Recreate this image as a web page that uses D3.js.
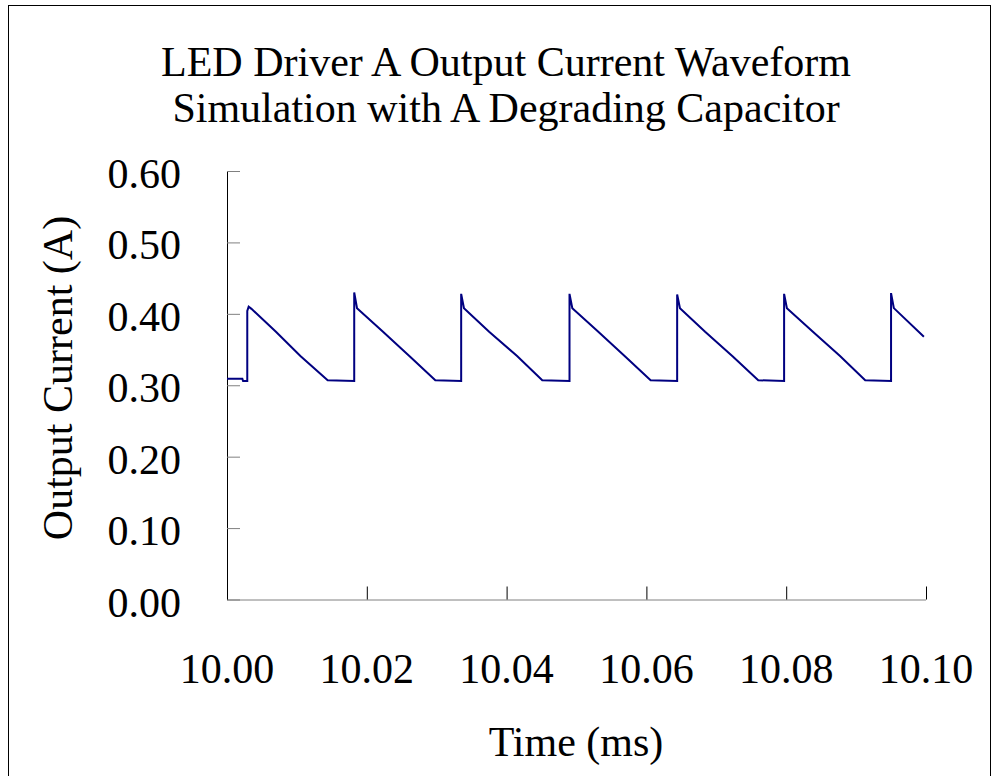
<!DOCTYPE html>
<meta charset="utf-8">
<style>
body { margin: 0; background: #fff; }
svg text { font-family: "Liberation Serif", "Times New Roman", serif; fill: #000; }
</style>
<svg class="chart" width="997" height="776"></svg>
<script src="https://d3js.org/d3.v7.min.js"></script>
<script>

// time (ms) and output current (A)
var times = [
  10.0000, 10.0022, 10.0023, 10.0029, 10.0029, 10.0031, 10.0035, 10.0070, 10.0105, 10.0144,
  10.0182, 10.0182, 10.0186, 10.0222, 10.0262, 10.0298,
  10.0335, 10.0335, 10.0339, 10.0375, 10.0415, 10.0451,
  10.0490, 10.0490, 10.0494, 10.0530, 10.0570, 10.0606,
  10.0644, 10.0644, 10.0648, 10.0684, 10.0724, 10.0760,
  10.0797, 10.0797, 10.0801, 10.0837, 10.0877, 10.0913,
  10.0950, 10.0950, 10.0954, 10.0997
];
var current = [
  0.309, 0.309, 0.306, 0.306, 0.404, 0.410, 0.407, 0.375, 0.341, 0.307,
  0.306, 0.430, 0.408, 0.376, 0.340, 0.307,
  0.306, 0.428, 0.408, 0.375, 0.341, 0.307,
  0.306, 0.428, 0.408, 0.376, 0.340, 0.307,
  0.306, 0.427, 0.408, 0.375, 0.340, 0.307,
  0.306, 0.428, 0.408, 0.376, 0.341, 0.307,
  0.306, 0.429, 0.408, 0.368
];
var xTicks = [10.00, 10.02, 10.04, 10.06, 10.08, 10.10];
var yTicks = [0.00, 0.10, 0.20, 0.30, 0.40, 0.50, 0.60];

var titleLines = ["LED Driver A Output Current Waveform", "Simulation with A Degrading Capacitor"];

var svg = d3.select(".chart");

svg.append("rect")
    .attr("x", 8.5).attr("y", 5.5)
    .attr("width", 982).attr("height", 790)
    .attr("fill", "#fff").attr("stroke", "#000").attr("stroke-width", 1);

var plotLeft = 227, plotRight = 926, plotTop = 171, plotBottom = 599.5;

var x = d3.scaleLinear().domain([10.00, 10.10]).range([plotLeft, plotRight]);
var y = d3.scaleLinear().domain([0, 0.6]).range([plotBottom, plotTop]);

// y axis, ticks pointing into the plot
var yAxis = svg.append("g")
    .attr("transform", "translate(" + plotLeft + ",0)")
    .call(d3.axisRight(y).tickValues(yTicks).tickSize(13).tickFormat(""));
yAxis.select(".domain").attr("stroke", "#000").attr("d", "M0.5," + plotTop + "V" + plotBottom);
yAxis.selectAll(".tick line").attr("stroke", "#808080");

svg.append("g").selectAll("text")
    .data(yTicks)
    .enter().append("text")
    .attr("x", 181)
    .attr("y", function(d) { return y(d) + 17; })
    .attr("text-anchor", "end")
    .style("font-size", "42px")
    .text(function(d) { return d.toFixed(2); });

// x axis, ticks pointing up
var xAxis = svg.append("g")
    .attr("transform", "translate(0," + plotBottom + ")")
    .call(d3.axisTop(x).tickValues(xTicks).tickSize(13).tickFormat(""));
xAxis.select(".domain").attr("stroke", "#808080").attr("d", "M" + plotLeft + ",0.5H" + plotRight);
xAxis.selectAll(".tick line").attr("stroke", "#000");

svg.append("g").selectAll("text")
    .data(xTicks)
    .enter().append("text")
    .attr("x", function(d) { return x(d); })
    .attr("y", 683)
    .attr("text-anchor", "middle")
    .style("font-size", "42px")
    .text(function(d) { return d.toFixed(2); });

var line = d3.line()
    .x(function(d, i) { return x(times[i]); })
    .y(function(d) { return y(d); });

svg.append("path")
    .datum(current)
    .attr("fill", "none")
    .attr("stroke", "#000080")
    .attr("stroke-width", 2)
    .attr("d", line);

svg.selectAll(".title")
    .data(titleLines)
    .enter().append("text")
    .attr("class", "title")
    .attr("x", 506)
    .attr("y", function(d, i) { return 76 + i * 46; })
    .attr("text-anchor", "middle")
    .style("font-size", "42px")
    .text(function(d) { return d; });

svg.append("text")
    .attr("x", 576)
    .attr("y", 756)
    .attr("text-anchor", "middle")
    .style("font-size", "42px")
    .text("Time (ms)");

svg.append("text")
    .attr("transform", "translate(72,378) rotate(-90)")
    .attr("text-anchor", "middle")
    .style("font-size", "42px")
    .text("Output Current (A)");

</script>
